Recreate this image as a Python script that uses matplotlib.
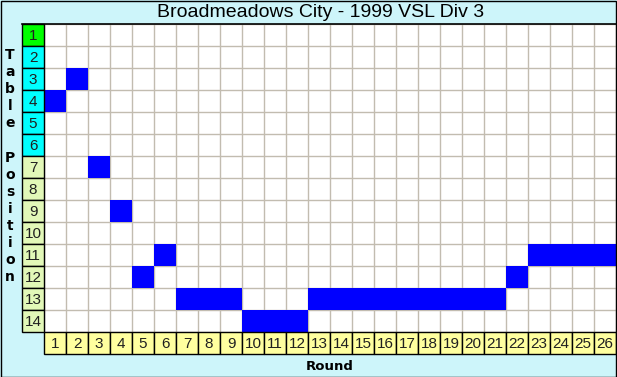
import matplotlib
matplotlib.use("Agg")
import matplotlib.pyplot as plt
from matplotlib.patches import Rectangle

title = "Broadmeadows City - 1999 VSL Div 3"
rounds = list(range(1, 27))
positions = [4, 3, 7, 9, 12, 11, 13, 13, 13, 14, 14, 14, 13, 13, 13, 13, 13, 13,
             13, 13, 13, 12, 11, 11, 11, 11]
table_positions = list(range(1, 15))
x_label = "Round"
y_label = "Table Position"

W, H = 617, 377
fig = plt.figure(figsize=(W / 100, H / 100), dpi=100)
bg = "#cdf5fa"
fig.patch.set_facecolor(bg)

# grid area pixels: x 44..616, y 24..332
left, right, top, bottom = 44, 616, 24, 332
ax = fig.add_axes([left / W, (H - bottom) / H, (right - left) / W, (bottom - top) / H])
ax.set_facecolor("white")
ax.set_xlim(0.5, 26.5)
ax.set_ylim(14.5, 0.5)

ax.set_xticks([r + 0.5 for r in range(0, 27)], minor=True)
ax.set_yticks([p + 0.5 for p in range(0, 15)], minor=True)
ax.set_xticks([])
ax.set_yticks([])
ax.grid(which="minor", color="#c2bcb0", linewidth=1.0)
ax.tick_params(which="both", length=0)
for s in ax.spines.values():
    s.set_visible(False)
ax.set_axisbelow(True)

ax.bar(rounds, 1.0, bottom=[p - 0.5 for p in positions], width=1.0,
       color="#0000ff", linewidth=0, zorder=3)

# left position labels
def pos_color(p):
    if p == 1:
        return "#00ff00"
    if p <= 6:
        return "#00ffff"
    return "#e2f8b8"

for p in table_positions:
    ax.add_patch(Rectangle((-0.5, p - 0.5), 1.0, 1.0, facecolor=pos_color(p),
                           edgecolor="black", linewidth=1.0, clip_on=False, zorder=4))
    ax.text(0.0, p + 0.03, str(p), ha="center", va="center", fontsize=11,
            family="Liberation Sans", color="#202020", clip_on=False, zorder=5)

# bottom round labels
for r in rounds:
    ax.add_patch(Rectangle((r - 0.5, 14.5), 1.0, 1.0, facecolor="#ffff9f",
                           edgecolor="black", linewidth=1.0, clip_on=False, zorder=4))
    ax.text(r, 15.03, str(r), ha="center", va="center", fontsize=11,
            family="Liberation Sans", color="#202020", clip_on=False, zorder=5)

# top border line of grid across
ax.plot([-0.5, 26.6], [0.5, 0.5], color="black", linewidth=1.2, clip_on=False, zorder=6)

# title
fig.text(321 / W, 1 - 12.5 / H, title, ha="center", va="center",
         fontsize=14, family="Liberation Sans", color="black")

# Round label
fig.text((left + right) / 2 / W, 1 - 366 / H, x_label, ha="center", va="center",
         fontsize=9.5, fontweight="bold", family="DejaVu Sans", color="black")

# vertical letters
y0 = 55
step = 17.1
for i, ch in enumerate(y_label):
    if ch == " ":
        continue
    fig.text(10 / W, 1 - (y0 + i * step) / H, ch, ha="center", va="center",
             fontsize=10, fontweight="bold", family="DejaVu Sans", color="black")

# outer border
fig.add_artist(Rectangle((0.5 / W, 0.5 / H), (W - 1.5) / W, (H - 1.5) / H,
                         transform=fig.transFigure, fill=False,
                         edgecolor="black", linewidth=1.0))

fig.savefig("out.png", dpi=100, facecolor=fig.get_facecolor())
